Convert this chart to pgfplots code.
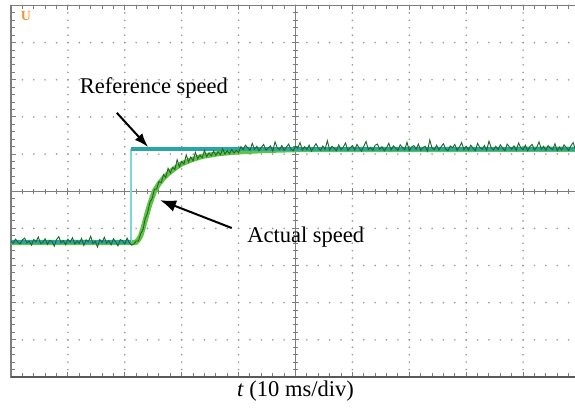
\documentclass[border=0pt]{standalone}
\usepackage{pgfplots}
\pgfplotsset{compat=1.18}
\usepackage{pgfplotstable}
\usetikzlibrary{arrows.meta}
\usepackage{fontspec}
\setmainfont{Liberation Serif}

\definecolor{scopegrid}{RGB}{150,150,150}
\definecolor{scopeframe}{RGB}{125,125,125}
\definecolor{refteal}{RGB}{40,165,165}
\definecolor{reflight}{RGB}{125,215,215}
\definecolor{actgreen}{RGB}{95,195,70}
\definecolor{noisegreen}{RGB}{35,100,40}
\definecolor{markorange}{RGB}{240,150,50}

% x in divisions (10 ms/div), y in divisions
\pgfplotstableread{
x y
0.00 3.66
0.04 3.60
0.08 3.71
0.12 3.63
0.16 3.58
0.20 3.69
0.24 3.74
0.28 3.61
0.32 3.66
0.36 3.55
0.40 3.70
0.44 3.64
0.48 3.77
0.52 3.59
0.56 3.62
0.60 3.72
0.64 3.57
0.68 3.68
0.72 3.65
0.76 3.52
0.80 3.70
0.84 3.78
0.88 3.61
0.92 3.67
0.96 3.56
1.00 3.71
1.04 3.63
1.08 3.75
1.12 3.58
1.16 3.66
1.20 3.60
1.24 3.73
1.28 3.54
1.32 3.69
1.36 3.64
1.40 3.79
1.44 3.59
1.48 3.65
1.52 3.50
1.56 3.70
1.60 3.62
1.64 3.76
1.68 3.60
1.72 3.67
1.76 3.56
1.80 3.72
1.84 3.63
1.88 3.53
1.92 3.70
1.96 3.66
2.00 3.58
2.04 3.74
2.08 3.61
2.12 3.55
2.16 3.58
2.20 3.66
2.24 3.66
2.28 3.86
2.32 3.97
2.36 4.27
2.40 4.41
2.44 4.70
2.48 4.80
2.52 5.05
2.56 5.06
2.60 5.26
2.64 5.23
2.68 5.45
2.72 5.37
2.76 5.62
2.80 5.49
2.84 5.64
2.88 5.58
2.92 5.85
2.96 5.66
3.00 5.80
3.04 5.73
3.08 5.98
3.12 5.79
3.16 5.92
3.20 5.82
3.24 6.05
3.28 5.87
3.32 5.97
3.36 5.90
3.40 6.10
3.44 5.93
3.48 6.03
3.52 5.95
3.56 6.08
3.60 5.97
3.64 6.06
3.68 5.98
3.72 6.14
3.76 6.00
3.80 6.09
3.84 6.01
3.88 6.12
3.92 6.03
3.96 6.10
4.00 6.04
4.04 6.20
4.08 6.12
4.12 6.24
4.16 6.17
4.20 6.10
4.24 6.29
4.28 6.13
4.32 6.21
4.36 6.09
4.40 6.18
4.44 6.26
4.48 6.11
4.52 6.16
4.56 6.22
4.60 6.08
4.64 6.33
4.68 6.17
4.72 6.12
4.76 6.23
4.80 6.10
4.84 6.19
4.88 6.27
4.92 6.13
4.96 6.09
5.00 6.21
5.04 6.16
5.08 6.31
5.12 6.11
5.16 6.20
5.20 6.12
5.24 6.24
5.28 6.08
5.32 6.18
5.36 6.28
5.40 6.17
5.44 6.10
5.48 6.22
5.52 6.13
5.56 6.36
5.60 6.11
5.64 6.21
5.68 6.16
5.72 6.09
5.76 6.25
5.80 6.12
5.84 6.19
5.88 6.30
5.92 6.10
5.96 6.17
6.00 6.23
6.04 6.11
6.08 6.26
6.12 6.16
6.16 6.08
6.20 6.21
6.24 6.34
6.28 6.12
6.32 6.18
6.36 6.10
6.40 6.24
6.44 6.27
6.48 6.13
6.52 6.20
6.56 6.09
6.60 6.17
6.64 6.29
6.68 6.11
6.72 6.22
6.76 6.16
6.80 6.10
6.84 6.25
6.88 6.18
6.92 6.12
6.96 6.32
7.00 6.09
7.04 6.19
7.08 6.23
7.12 6.13
7.16 6.27
7.20 6.10
7.24 6.18
7.28 6.21
7.32 6.08
7.36 6.38
7.40 6.16
7.44 6.12
7.48 6.24
7.52 6.11
7.56 6.20
7.60 6.28
7.64 6.13
7.68 6.09
7.72 6.22
7.76 6.17
7.80 6.26
7.84 6.10
7.88 6.19
7.92 6.31
7.96 6.12
8.00 6.21
8.04 6.11
8.08 6.24
8.12 6.16
8.16 6.09
8.20 6.29
8.24 6.18
8.28 6.13
8.32 6.23
8.36 6.10
8.40 6.35
8.44 6.17
8.48 6.11
8.52 6.21
8.56 6.12
8.60 6.25
8.64 6.16
8.68 6.09
8.72 6.27
8.76 6.19
8.80 6.13
8.84 6.22
8.88 6.10
8.92 6.30
8.96 6.17
9.00 6.12
9.04 6.24
9.08 6.09
9.12 6.20
9.16 6.26
9.20 6.11
9.24 6.18
9.28 6.33
9.32 6.13
9.36 6.21
9.40 6.10
9.44 6.23
9.48 6.16
9.52 6.12
9.56 6.28
9.60 6.09
9.64 6.19
9.68 6.11
9.72 6.25
9.76 6.17
9.80 6.10
9.84 6.22
9.88 6.31
9.92 6.12
9.96 6.20
10.00 6.13
}\noisy

\pgfplotstableread{
x y
0.00 3.62
2.16 3.62
2.20 3.63
2.24 3.70
2.28 3.80
2.32 4.00
2.36 4.22
2.40 4.45
2.44 4.65
2.48 4.83
2.52 5.00
2.56 5.10
2.60 5.20
2.68 5.35
2.76 5.47
2.84 5.57
2.92 5.66
3.00 5.74
3.08 5.79
3.16 5.84
3.24 5.88
3.32 5.92
3.40 5.95
3.52 5.98
3.64 6.01
3.80 6.035
4.00 6.06
4.50 6.10
5.00 6.12
10.00 6.13
}\actual

\begin{document}
\begin{tikzpicture}
\useasboundingbox (0,0) rectangle (287.5pt,205.5pt);
\clip (0,0) rectangle (287.5pt,205.5pt);

% frame and dotted graticule
\begin{axis}[
  at={(5.5pt,17pt)}, anchor=south west,
  scale only axis, width=284.5pt, height=185.75pt,
  xmin=0, xmax=10, ymin=0, ymax=10,
  xtick={0,...,10}, ytick={0,...,10},
  minor x tick num=4, minor y tick num=4,
  xticklabels={}, yticklabels={},
  tick align=inside,
  major tick length=2.5pt, minor tick length=1.8pt,
  tick style={scopeframe, line width=0.5pt},
  grid=major,
  x grid style={scopegrid, line width=0.9pt, line cap=round, dash pattern=on 0pt off 3.715pt},
  y grid style={scopegrid, line width=0.9pt, line cap=round, dash pattern=on 0pt off 5.69pt},
  axis line style={scopeframe, line width=0.9pt},
]
\end{axis}

% centre cross with ticks
\begin{axis}[
  at={(5.5pt,17pt)}, anchor=south west,
  scale only axis, width=284.5pt, height=185.75pt,
  xmin=-5, xmax=5, ymin=-5, ymax=5,
  axis lines=center,
  axis line style={-, scopeframe, line width=0.5pt},
  xtick={-5,...,5}, ytick={-5,...,5},
  minor x tick num=4, minor y tick num=4,
  xticklabels={}, yticklabels={},
  tick align=center,
  major tick length=3.5pt, minor tick length=2.5pt,
  tick style={scopeframe, line width=0.5pt},
]
\end{axis}

% traces and annotations
\begin{axis}[
  at={(5.5pt,17pt)}, anchor=south west,
  scale only axis, width=284.5pt, height=185.75pt,
  xmin=0, xmax=10, ymin=0, ymax=10,
  hide axis, clip mode=individual,
  unbounded coords=jump,
]
\draw[black!65, line width=1pt] (rel axis cs:0,0) -- (rel axis cs:1,0);
\addplot[actgreen, line width=2.6pt] table {\actual};
\addplot[reflight, line width=0.6pt] coordinates {(2.11,3.63) (2.11,6.14)};
\addplot[refteal, line width=2pt] coordinates {(0,3.63) (2.11,3.63) (2.11,nan) (2.11,6.14) (10,6.14)};
\addplot[noisegreen, line width=0.45pt] table {\noisy};

\node[text=markorange, font=\fontsize{7}{7}\selectfont\bfseries] at (axis cs:0.264,9.72) {U};

\node[font=\fontsize{11.25}{13}\selectfont] at (axis cs:2.51,7.78) {Reference speed};
\draw[-{Latex[length=7pt,width=5pt]}, line width=1pt] (axis cs:1.86,7.11) -- (axis cs:2.41,6.19);
\node[font=\fontsize{11.25}{13}\selectfont] at (axis cs:5.18,3.77) {Actual speed};
\draw[-{Latex[length=8pt,width=6pt]}, line width=1pt] (axis cs:3.88,4.01) -- (axis cs:2.62,4.76);

\node[anchor=base, font=\fontsize{11.25}{13}\selectfont] at (axis cs:5,0) [yshift=-10pt] {\textit{t} (10 ms/div)};
\end{axis}
\end{tikzpicture}
\end{document}
